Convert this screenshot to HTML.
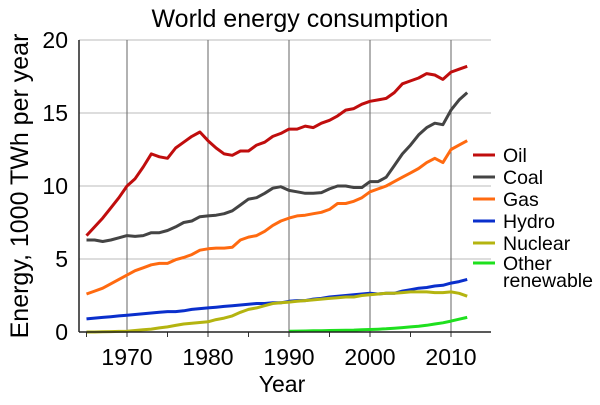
<!DOCTYPE html>
<html><head><meta charset="utf-8"><style>
html,body{margin:0;padding:0;background:#fff}
svg text{font-family:"Liberation Sans",sans-serif;fill:#000}
</style></head><body>
<svg id="chart" width="600" height="400">
<text x="300" y="27" font-size="25" text-anchor="middle">World energy consumption</text>
<text transform="translate(28,186) rotate(-90)" font-size="25" text-anchor="middle">Energy, 1000 TWh per year</text>
<text x="282" y="392" font-size="23" text-anchor="middle">Year</text>
<g id="grid"></g><g id="series"></g><g id="axes"></g><g id="legend"></g>
</svg>
<script>
const years = [];for(let y=1965;y<=2012;y++)years.push(y);
const oil = [6.6,7.2,7.8,8.5,9.2,10.0,10.5,11.3,12.2,12.0,11.9,12.6,13.0,13.4,13.7,13.1,12.6,12.2,12.1,12.4,12.4,12.8,13.0,13.4,13.6,13.9,13.9,14.1,14.0,14.3,14.5,14.8,15.2,15.3,15.6,15.8,15.9,16.0,16.4,17.0,17.2,17.4,17.7,17.6,17.3,17.8,18.0,18.2];
const coal = [6.3,6.3,6.2,6.3,6.45,6.6,6.55,6.6,6.8,6.8,6.95,7.2,7.5,7.6,7.9,7.95,8.0,8.1,8.3,8.7,9.1,9.2,9.5,9.85,9.95,9.7,9.6,9.5,9.5,9.55,9.8,10.0,10.0,9.9,9.9,10.3,10.3,10.6,11.4,12.2,12.8,13.5,14.0,14.3,14.2,15.2,15.9,16.4];
const gas = [2.6,2.8,3.0,3.3,3.6,3.9,4.2,4.4,4.6,4.7,4.7,4.95,5.1,5.3,5.6,5.7,5.75,5.75,5.8,6.3,6.5,6.6,6.9,7.3,7.6,7.8,7.95,8.0,8.1,8.2,8.4,8.8,8.8,8.95,9.2,9.6,9.8,10.0,10.3,10.6,10.9,11.2,11.6,11.9,11.6,12.5,12.8,13.1];
const hydro = [0.9,0.95,1.0,1.05,1.1,1.15,1.2,1.25,1.3,1.35,1.4,1.4,1.45,1.55,1.6,1.65,1.7,1.75,1.8,1.85,1.9,1.95,1.95,2.0,2.0,2.1,2.15,2.15,2.25,2.3,2.4,2.45,2.5,2.55,2.6,2.65,2.6,2.65,2.65,2.8,2.9,3.0,3.05,3.15,3.2,3.35,3.45,3.6];
const nuclear = [0.0,0.0,0.02,0.03,0.04,0.05,0.1,0.15,0.2,0.28,0.35,0.45,0.55,0.6,0.65,0.7,0.85,0.95,1.1,1.35,1.55,1.65,1.8,1.95,2.0,2.05,2.1,2.15,2.2,2.25,2.3,2.35,2.4,2.4,2.5,2.55,2.6,2.65,2.65,2.7,2.75,2.75,2.75,2.7,2.7,2.75,2.65,2.45];
const otherYears = [];for(let y=1990;y<=2012;y++)otherYears.push(y);
const other = [0.05,0.06,0.07,0.08,0.09,0.1,0.11,0.12,0.13,0.15,0.17,0.19,0.22,0.26,0.3,0.35,0.4,0.46,0.55,0.63,0.75,0.88,1.0];
const yTicks = [0,5,10,15,20];
const xTicks = [1970,1980,1990,2000,2010];
const seriesNames = ["Oil","Coal","Gas","Hydro","Nuclear","Other renewable"];

const NS="http://www.w3.org/2000/svg";
const X0=79,X1=465,Y0=332,Y1=40;
const xs=y=>127+(y-1970)*8.1;
const ys=v=>Y0-v*14.6;
function mk(t,a,p){const e=document.createElementNS(NS,t);for(const k in a)e.setAttribute(k,a[k]);p.appendChild(e);return e;}
const grid=document.getElementById('grid'),axes=document.getElementById('axes'),ser=document.getElementById('series'),leg=document.getElementById('legend');
yTicks.forEach(v=>{
 if(v>0){const l=mk('line',{x1:X0,x2:X1+26,y1:ys(v),y2:ys(v),stroke:'#bbb','stroke-width':1},grid);
 
 }
 const t=mk('text',{x:68,y:ys(v)+8,'font-size':23,'text-anchor':'end'},axes);t.textContent=v;
 
 
});
xTicks.forEach(y=>{
 const l=mk('line',{x1:xs(y),x2:xs(y),y1:Y1,y2:Y0,stroke:'#666','stroke-width':1},grid);
 
 
 const t=mk('text',{x:xs(y),y:365,'font-size':23,'text-anchor':'middle'},axes);t.textContent=y;
 
 
});
for(let y=1965;y<=2010;y+=5){mk('line',{x1:xs(y),x2:xs(y),y1:Y0,y2:Y0+5,stroke:'#333','stroke-width':1},axes);}
const ya=mk('line',{x1:X0,x2:X0,y1:Y1,y2:Y0,stroke:'#222','stroke-width':1.5},axes);


const xa=mk('line',{x1:X0,x2:X1+26,y1:Y0,y2:Y0,stroke:'#222','stroke-width':1.5},axes);


const colors=['#c00d0d','#444444','#ff6a10','#0a2fcc','#b4b410','#1ee01e'];
const data=[[years,oil],[years,coal],[years,gas],[years,hydro],[years,nuclear],[otherYears,other]];
data.forEach((d,i)=>{
 const pts=d[0].map((y,j)=>xs(y).toFixed(1)+','+ys(d[1][j]).toFixed(1)).join(' ');
 const p=mk('polyline',{points:pts,fill:'none',stroke:colors[i],'stroke-width':3,'stroke-linejoin':'round'},ser);
 
 
});
const ly=[155,177,199,221,243,263];
seriesNames.forEach((n,i)=>{
 const g=mk('g',{},leg);
 
 
 mk('line',{x1:473,x2:495,y1:ly[i],y2:ly[i],stroke:colors[i],'stroke-width':3},g);
 if(n==="Other renewable"){
  const t1=mk('text',{x:503,y:ly[i]+7,'font-size':19.5},g);t1.textContent="Other";
  const t2=mk('text',{x:503,y:ly[i]+24,'font-size':19.5},g);t2.textContent="renewable";
 } else {const t=mk('text',{x:503,y:ly[i]+7,'font-size':19.5},g);t.textContent=n;}
});
</script>
</body></html>
